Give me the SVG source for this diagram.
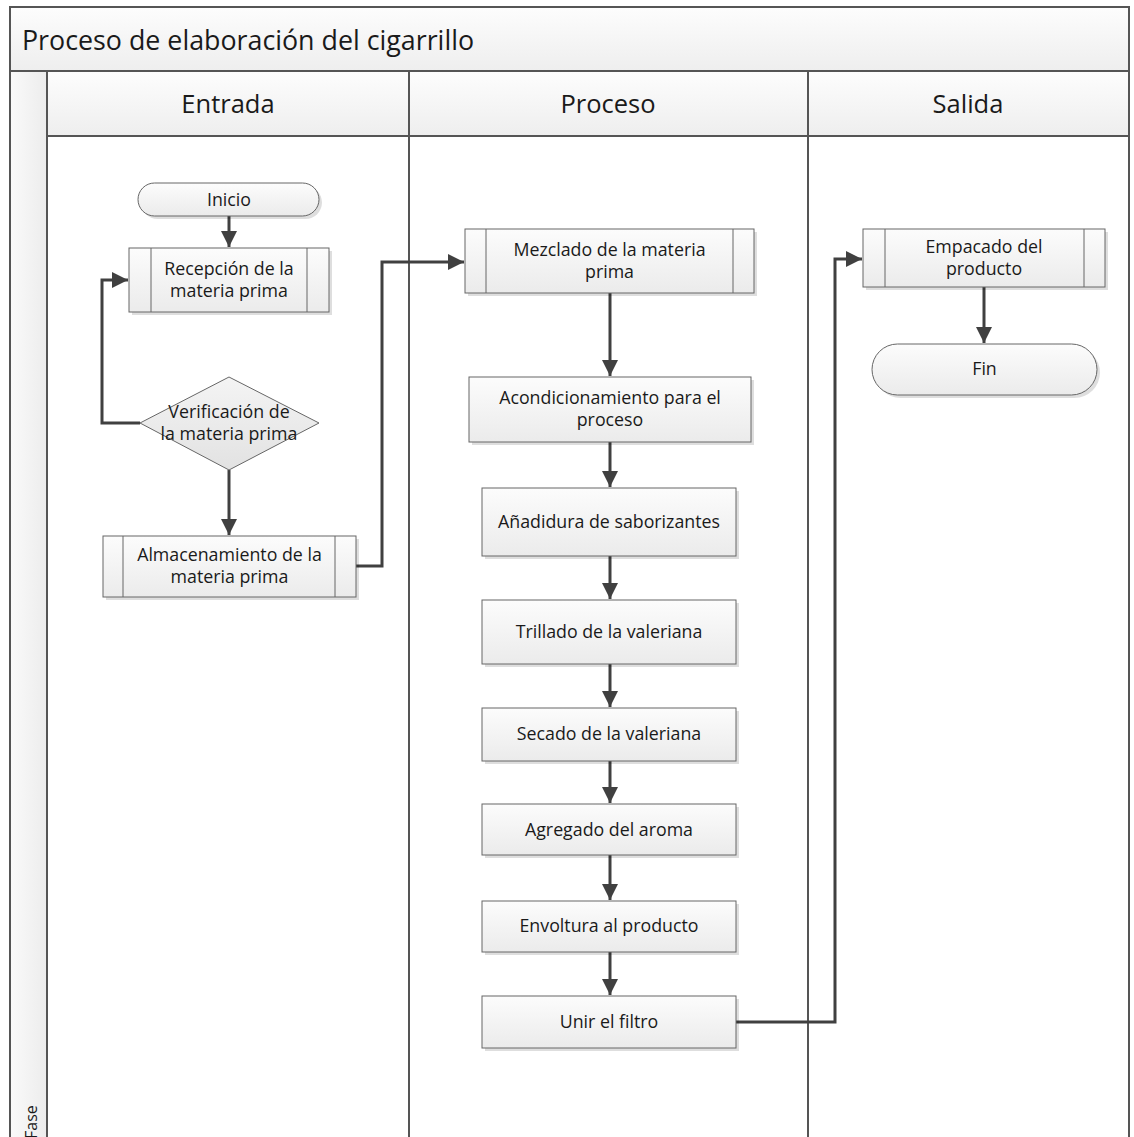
<svg xmlns="http://www.w3.org/2000/svg" width="1134" height="1137" viewBox="0 0 1134 1137">
<style>
text{font-family:"Open Sans","Noto Sans","Liberation Sans",sans-serif;fill:#1a1a1a;text-anchor:middle}
.t{font-size:17.8px}
.h{font-size:25.5px}
.lane{fill:none;stroke:#555;stroke-width:2}
.box{fill:url(#gb);stroke:#666;stroke-width:1}
.sub{stroke:#666;stroke-width:1;fill:none}
.sh{fill:#000;opacity:.13}
.c{fill:none;stroke:#404040;stroke-width:3;marker-end:url(#ar)}
</style>
<defs>
<linearGradient id="gb" x1="0" y1="0" x2="0" y2="1"><stop offset="0" stop-color="#fcfcfc"/><stop offset="1" stop-color="#ebebeb"/></linearGradient>
<linearGradient id="gh" x1="0" y1="0" x2="0" y2="1"><stop offset="0" stop-color="#fdfdfd"/><stop offset="1" stop-color="#eeeeee"/></linearGradient>
<linearGradient id="gf" x1="0" y1="0" x2="1" y2="0"><stop offset="0" stop-color="#fafafa"/><stop offset="1" stop-color="#ececec"/></linearGradient>
<linearGradient id="gd" x1="0" y1="0" x2="0" y2="1"><stop offset="0" stop-color="#f4f4f4"/><stop offset="1" stop-color="#e2e2e2"/></linearGradient>
<marker id="ar" markerUnits="userSpaceOnUse" markerWidth="18" markerHeight="18" refX="16" refY="8" orient="auto"><path d="M0,0 L16,8 L0,16 z" fill="#404040"/></marker>
</defs>
<g id="swimlanes">
<rect x="10" y="7" width="1119" height="64" fill="url(#gh)"/>
<rect x="47" y="71" width="1082" height="65" fill="url(#gh)"/>
<rect x="10" y="71" width="37" height="1070" fill="url(#gf)"/>
<rect x="47" y="136" width="1082" height="1005" fill="#fff"/>
<path class="lane" d="M10,1140 V7 H1129 V1140 M10,71 H1129 M47,136 H1129 M47,71 V1140 M409,71 V1140 M808,71 V1140"/>
<text x="22" y="50" style="font-size:26.8px;text-anchor:start">Proceso de elaboración del cigarrillo</text>
<text class="h" x="228" y="113">Entrada</text>
<text class="h" x="608" y="113">Proceso</text>
<text class="h" x="968" y="113">Salida</text>
<text x="37" y="1139" transform="rotate(-90 37 1139)" style="font-size:16px;text-anchor:start">Fase</text>
</g>
<g id="connectors">
<path class="c" d="M229,216 V247"/>
<path class="c" d="M140,423 H102 V280 H128"/>
<path class="c" d="M229,470 V535"/>
<path class="c" d="M356,566 H382 V262 H464"/>
<path class="c" d="M610,293 V376"/>
<path class="c" d="M610,442 V487"/>
<path class="c" d="M610,556 V599"/>
<path class="c" d="M610,664 V707"/>
<path class="c" d="M610,761 V803"/>
<path class="c" d="M610,855 V900"/>
<path class="c" d="M610,952 V995"/>
<path class="c" d="M736,1022 H835 V259 H862"/>
<path class="c" d="M984,287 V343"/>
</g>
<g id="inicio">
<rect class="sh" x="141" y="186" width="181" height="33" rx="16.5"/>
<rect class="box" x="138" y="183" width="181" height="33" rx="16.5"/>
<text class="t" x="229" y="206">Inicio</text>
</g>
<g id="recepcion">
<rect class="sh" x="132" y="251" width="200" height="64"/>
<rect class="box" x="129" y="248" width="200" height="64"/>
<path class="sub" d="M151,248 V312 M307,248 V312"/>
<text class="t" x="229" y="275">Recepción de la</text>
<text class="t" x="229" y="297">materia prima</text>
</g>
<g id="verificacion">
<polygon points="229,377 319,423 229,470 140,423" fill="url(#gd)" stroke="#666" stroke-width="1"/>
<text class="t" x="229" y="418">Verificación de</text>
<text class="t" x="229" y="440">la materia prima</text>
</g>
<g id="almacenamiento">
<rect class="sh" x="106" y="539" width="253" height="61"/>
<rect class="box" x="103" y="536" width="253" height="61"/>
<path class="sub" d="M123,536 V597 M335,536 V597"/>
<text class="t" x="229.5" y="561">Almacenamiento de la</text>
<text class="t" x="229.5" y="583">materia prima</text>
</g>
<g id="mezclado">
<rect class="sh" x="468" y="232" width="289" height="64"/>
<rect class="box" x="465" y="229" width="289" height="64"/>
<path class="sub" d="M486,229 V293 M733,229 V293"/>
<text class="t" x="609.5" y="256">Mezclado de la materia</text>
<text class="t" x="609.5" y="278">prima</text>
</g>
<g id="acondicionamiento">
<rect class="sh" x="472" y="380" width="282" height="65"/>
<rect class="box" x="469" y="377" width="282" height="65"/>
<text class="t" x="610" y="404">Acondicionamiento para el</text>
<text class="t" x="610" y="426">proceso</text>
</g>
<g id="anadidura">
<rect class="sh" x="485" y="491" width="254" height="68"/>
<rect class="box" x="482" y="488" width="254" height="68"/>
<text class="t" x="609" y="528">Añadidura de saborizantes</text>
</g>
<g id="trillado">
<rect class="sh" x="485" y="603" width="254" height="64"/>
<rect class="box" x="482" y="600" width="254" height="64"/>
<text class="t" x="609" y="638">Trillado de la valeriana</text>
</g>
<g id="secado">
<rect class="sh" x="485" y="711" width="254" height="53"/>
<rect class="box" x="482" y="708" width="254" height="53"/>
<text class="t" x="609" y="740">Secado de la valeriana</text>
</g>
<g id="agregado">
<rect class="sh" x="485" y="807" width="254" height="51"/>
<rect class="box" x="482" y="804" width="254" height="51"/>
<text class="t" x="609" y="836">Agregado del aroma</text>
</g>
<g id="envoltura">
<rect class="sh" x="485" y="904" width="254" height="51"/>
<rect class="box" x="482" y="901" width="254" height="51"/>
<text class="t" x="609" y="932">Envoltura al producto</text>
</g>
<g id="unir">
<rect class="sh" x="485" y="999" width="254" height="52"/>
<rect class="box" x="482" y="996" width="254" height="52"/>
<text class="t" x="609" y="1028">Unir el filtro</text>
</g>
<g id="empacado">
<rect class="sh" x="866" y="232" width="242" height="58"/>
<rect class="box" x="863" y="229" width="242" height="58"/>
<path class="sub" d="M885,229 V287 M1084,229 V287"/>
<text class="t" x="984" y="253">Empacado del</text>
<text class="t" x="984" y="275">producto</text>
</g>
<g id="fin">
<rect class="sh" x="875" y="347" width="225" height="51" rx="25.5"/>
<rect class="box" x="872" y="344" width="225" height="51" rx="25.5"/>
<text class="t" x="984.5" y="375">Fin</text>
</g>
</svg>
